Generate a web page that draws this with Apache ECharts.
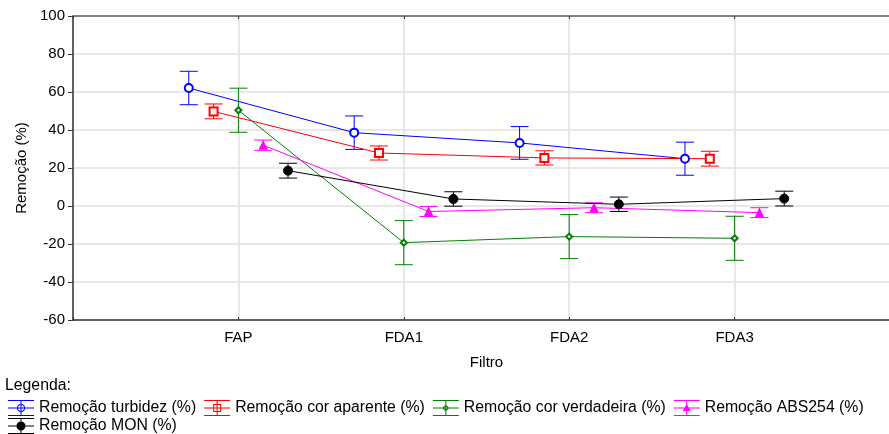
<!DOCTYPE html>
<html>
<head>
<meta charset="utf-8">
<script src="https://cdn.jsdelivr.net/npm/echarts@6/dist/echarts.min.js"></script>
<style>
  html, body { margin: 0; padding: 0; background: #fff; }
  #chart { width: 889px; height: 434px; }
</style>
</head>
<body>
<div id="chart"></div>
<script>
// categories on the x axis
const categories = ['FAP', 'FDA1', 'FDA2', 'FDA3'];
const yTicks = [-60, -40, -20, 0, 20, 40, 60, 80, 100];

const seriesNames = [
  'Remoção turbidez (%)',
  'Remoção cor aparente (%)',
  'Remoção cor verdadeira (%)',
  'Remoção ABS254 (%)',
  'Remoção MON (%)',
];

// mean values and error (half bar length), one per category
const turbidez = [62.1, 38.6, 33.2, 24.9];
const turbidezErr = [8.8, 8.8, 8.6, 8.7];
const corAparente = [49.8, 27.9, 25.3, 24.9];
const corAparenteErr = [3.9, 3.7, 3.75, 3.9];
const corVerdadeira = [50.4, -19.3, -16.1, -17.0];
const corVerdadeiraErr = [11.6, 11.6, 11.6, 11.6];
const abs254 = [32.0, -2.9, -0.9, -3.5];
const abs254Err = [2.7, 2.6, 2.6, 2.6];
const mon = [18.6, 3.7, 0.9, 3.9];
const monErr = [3.9, 3.8, 3.8, 3.9];

const values = [turbidez, corAparente, corVerdadeira, abs254, mon];
const errors = [turbidezErr, corAparenteErr, corVerdadeiraErr, abs254Err, monErr];

// look of each series
const colors = ['#0000ff', '#ff0000', '#008000', '#ff00ff', '#000000'];
const symbols = ['emptyCircle', 'emptyRect', 'emptyDiamond', 'triangle', 'circle'];
const symbolSizes = [8, 8, 6, 8, 9];
const dodge = [-0.3, -0.15, 0, 0.15, 0.3];

// legend icons: three lines, a stem and the marker
const iconBase = 'M0 0H26V1H0Z M0 7.5H26V8.5H0Z M0 15H26V16H0Z M12.5 0H13.5V16H12.5Z ';
const iconMarks = [
  'M17 8A4 4 0 1 1 9 8A4 4 0 1 1 17 8Z M16 8A3 3 0 1 0 10 8A3 3 0 1 0 16 8Z',
  'M9 4H17V12H9Z M10 5V11H16V5Z',
  'M13 4.5L16.5 8L13 11.5L9.5 8Z M13 5.9L10.9 8L13 10.1L15.1 8Z',
  'M13 4L17 11H9Z',
  'M17.5 8A4.5 4.5 0 1 1 8.5 8A4.5 4.5 0 1 1 17.5 8Z',
];

const font = 'Liberation Sans, Arial, sans-serif';
const chart = echarts.init(document.getElementById('chart'));

const lineSeries = values.map((vals, i) => ({
  name: seriesNames[i],
  type: 'line',
  xAxisIndex: 0,
  data: vals.map((v, j) => [j + 1 + dodge[i], v]),
  symbol: symbols[i],
  symbolSize: symbolSizes[i],
  showSymbol: true,
  lineStyle: { color: colors[i], width: 1 },
  itemStyle: { color: colors[i], borderColor: colors[i], borderWidth: 1 },
  z: 4,
  emphasis: { disabled: true },
}));

const errorSeries = values.map((vals, i) => ({
  name: 'err' + i,
  type: 'custom',
  xAxisIndex: 0,
  data: vals.map((v, j) => [j + 1 + dodge[i], v, errors[i][j]]),
  encode: { x: 0, y: 1 },
  z: 3,
  silent: true,
  renderItem: (params, api) => {
    const x = api.value(0);
    const y = api.value(1);
    const e = api.value(2);
    const top = api.coord([x, y + e]);
    const bot = api.coord([x, y - e]);
    const hw = 9;
    const style = { stroke: colors[i], lineWidth: 1 };
    return {
      type: 'group',
      children: [
        { type: 'line', shape: { x1: top[0], y1: top[1], x2: bot[0], y2: bot[1] }, style },
        { type: 'line', shape: { x1: top[0] - hw, y1: top[1], x2: top[0] + hw, y2: top[1] }, style },
        { type: 'line', shape: { x1: bot[0] - hw, y1: bot[1], x2: bot[0] + hw, y2: bot[1] }, style },
      ],
    };
  },
}));

const legendItem = (i) => ({
  name: seriesNames[i],
  icon: 'path://' + iconBase + iconMarks[i],
  itemStyle: { color: colors[i], borderWidth: 0 },
});

const legendCommon = {
  orient: 'horizontal',
  left: 8,
  padding: 0,
  itemWidth: 26,
  itemHeight: 16,
  itemGap: 8,
  itemTextGap: 6,
  selectedMode: false,
  textStyle: { fontFamily: font, fontSize: 15.8, color: '#000' },
  itemStyle: { borderWidth: 0 },
};

chart.setOption({
  animation: false,
  backgroundColor: '#fff',
  title: {
    text: 'Legenda:',
    left: 5,
    top: 378,
    padding: 0,
    textStyle: { fontFamily: font, fontSize: 15.8, fontWeight: 'normal', color: '#000' },
  },
  legend: [
    Object.assign({}, legendCommon, { top: 400, data: [0, 1, 2, 3].map(legendItem) }),
    Object.assign({}, legendCommon, { top: 418, data: [4].map(legendItem) }),
  ],
  grid: { left: 73, width: 827, top: 16, bottom: 114, outerBoundsMode: 'none', containLabel: false },
  xAxis: [
    {
      type: 'value',
      position: 'bottom',
      min: 0,
      max: 5,
      interval: 1,
      name: 'Filtro',
      nameLocation: 'middle',
      nameGap: 35,
      nameTextStyle: { fontFamily: font, fontSize: 15, color: '#000' },
      axisLine: { show: true, onZero: false, lineStyle: { color: '#333', width: 1.5 } },
      axisTick: { show: true, inside: true, length: 3, lineStyle: { color: '#333' } },
      axisLabel: {
        fontFamily: font,
        fontSize: 15,
        color: '#000',
        margin: 10,
        formatter: (v) => categories[v - 1] || '',
      },
      splitLine: { show: true, lineStyle: { color: '#e0e0e0', width: 1.5 } },
    },
    {
      type: 'value',
      position: 'top',
      min: 0,
      max: 5,
      interval: 1,
      axisLine: { show: true, onZero: false, lineStyle: { color: '#808080', width: 2 } },
      axisTick: { show: true, inside: true, length: 3, lineStyle: { color: '#333' } },
      axisLabel: { show: false },
      splitLine: { show: false },
    },
  ],
  yAxis: {
    type: 'value',
    min: yTicks[0],
    max: yTicks[yTicks.length - 1],
    interval: 20,
    name: 'Remoção (%)',
    nameLocation: 'middle',
    nameGap: 44,
    nameTextStyle: { fontFamily: font, fontSize: 15, color: '#000' },
    axisLine: { show: true, onZero: false, lineStyle: { color: '#333', width: 1.5 } },
    axisTick: { show: true, length: 5, lineStyle: { color: '#333' } },
    axisLabel: { fontFamily: font, fontSize: 15, color: '#000', margin: 8 },
    splitLine: { show: true, lineStyle: { color: '#e0e0e0', width: 1.5 } },
  },
  series: [...errorSeries, ...lineSeries],
});
</script>
</body>
</html>
